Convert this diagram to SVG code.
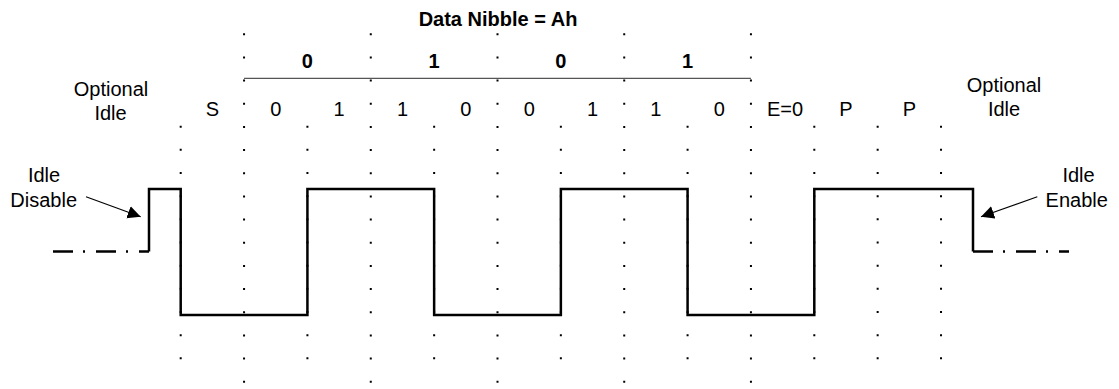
<svg xmlns="http://www.w3.org/2000/svg" width="1119" height="389" viewBox="0 0 1119 389">
<style>
text{font-family:"Liberation Sans",Arial,sans-serif;font-size:20px;fill:#000;text-anchor:middle}
.b{font-weight:bold}
.dot{stroke:#000;stroke-width:2;stroke-dasharray:2 21.16;fill:none}
.wave{stroke:#000;stroke-width:2.5;fill:none;stroke-linejoin:miter}
.dd{stroke:#000;stroke-width:2.5;fill:none;stroke-dasharray:20 10 2 11}
.arr{stroke:#000;stroke-width:1.2;fill:none;marker-end:url(#ah)}
</style>
<defs>
<marker id="ah" markerUnits="userSpaceOnUse" markerWidth="16" markerHeight="14" refX="13" refY="6.5" orient="auto">
<path d="M0,0 L13,6.5 L0,13 z" fill="#000"/>
</marker>
</defs>
<g id="grid">
<path class="dot" d="M244.06,33.3V383M370.78,33.3V383M497.5,33.3V383M624.22,33.3V383M750.94,33.3V383"/>
<path class="dot" d="M180.7,125.7V360M307.42,125.7V360M434.14,125.7V360M560.86,125.7V360M687.58,125.7V360M814.3,125.7V360M877.66,125.7V360M941.02,125.7V360"/>
</g>
<g id="title"><text class="b" x="498" y="25.5">Data Nibble = Ah</text></g>
<g id="nibble">
<line x1="244.06" y1="78.3" x2="750.94" y2="78.3" stroke="#555" stroke-width="1.3"/>
<text class="b" x="307.4" y="68">0</text>
<text class="b" x="434.1" y="68">1</text>
<text class="b" x="560.9" y="68">0</text>
<text class="b" x="687.6" y="68">1</text>
</g>
<g id="bits">
<text x="212.4" y="116">S</text>
<text x="275.7" y="116">0</text>
<text x="339.1" y="116">1</text>
<text x="402.5" y="116">1</text>
<text x="465.8" y="116">0</text>
<text x="529.2" y="116">0</text>
<text x="592.5" y="116">1</text>
<text x="655.9" y="116">1</text>
<text x="719.3" y="116">0</text>
<text x="785" y="116">E=0</text>
<text x="846" y="116">P</text>
<text x="909.4" y="116">P</text>
</g>
<g id="opt-idle-left">
<text x="111" y="95.5">Optional</text>
<text x="110.5" y="120">Idle</text>
</g>
<g id="opt-idle-right">
<text x="1004" y="91.5">Optional</text>
<text x="1004" y="115.5">Idle</text>
</g>
<g id="idle-disable">
<text x="44" y="182.3">Idle</text>
<text x="43.7" y="207">Disable</text>
</g>
<g id="idle-enable">
<text x="1078.5" y="182.3">Idle</text>
<text x="1076.7" y="207.3">Enable</text>
</g>
<g id="signal">
<path class="wave" d="M149,251.5V189H180.7V315H307.42V189H434.14V315H560.86V189H687.58V315H814.3V189H973V251.5"/>
<path class="dd" d="M53,251.5H149"/>
<path class="dd" d="M973,251.5H1069"/>
</g>
<g id="connectors">
<line class="arr" x1="86" y1="196.7" x2="140.7" y2="216.7"/>
<line class="arr" x1="1037.3" y1="196.7" x2="981" y2="216.7"/>
</g>
</svg>
